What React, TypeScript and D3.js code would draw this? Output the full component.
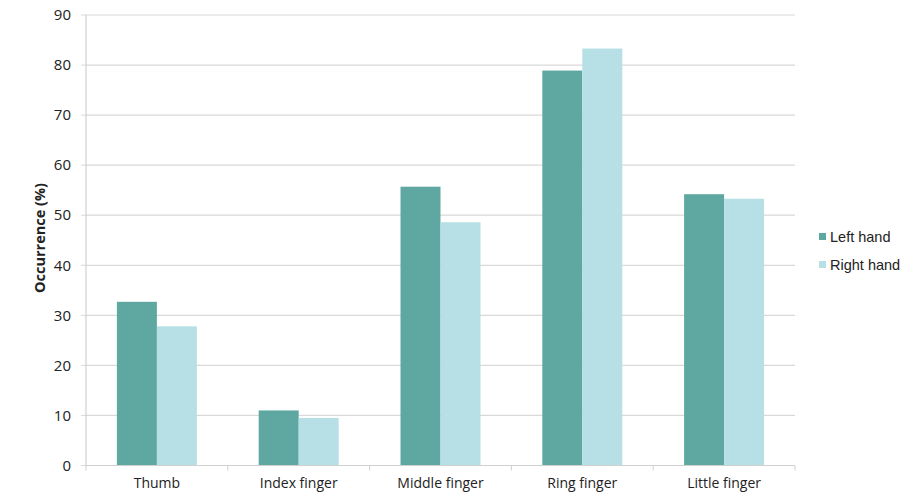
import React from "react";
import * as d3 from "d3";

const categories = ["Thumb", "Index finger", "Middle finger", "Ring finger", "Little finger"];
const seriesNames = ["Left hand", "Right hand"];
const leftHand = [32.7, 11.0, 55.7, 78.9, 54.2];
const rightHand = [27.8, 9.5, 48.6, 83.3, 53.3];
const yTicks = [0, 10, 20, 30, 40, 50, 60, 70, 80, 90];
const colors = ["#5fa8a1", "#b7e0e6"];

export default function App() {
  const W = 924, H = 495;
  const x0 = 86, x1 = 795, yTop = 15, yBot = 465.5;
  const x = d3.scaleBand<string>().domain(categories).range([x0, x1]).padding(0);
  const inner = d3.scaleBand<string>().domain(seriesNames).range([0, 80]).padding(0);
  const y = d3.scaleLinear().domain([0, 90]).range([yBot, yTop]);
  const series = [leftHand, rightHand];
  const font = "'Open Sans', sans-serif";
  return (
    <svg width={W} height={H} style={{ position: "absolute", left: 0, top: 0, background: "#fff" }}>
      {yTicks.map((t) => (
        <g key={t}>
          {t > 0 && <line x1={x0} x2={x1} y1={y(t)} y2={y(t)} stroke="#d9d9d9" strokeWidth={1.2} />}
          <line x1={x0 - 5} x2={x0} y1={y(t)} y2={y(t)} stroke="#d9d9d9" strokeWidth={1} />
          <text x={x0 - 15} y={y(t)} dy="0.35em" textAnchor="end" fontFamily={font} fontSize={15} fill="#222">{t}</text>
        </g>
      ))}
      {categories.map((c, i) =>
        series.map((s, j) => (
          <rect key={c + j}
            x={x(c)! + (x.bandwidth() - 80) / 2 + inner(seriesNames[j])!}
            y={y(s[i])} width={inner.bandwidth()} height={y(0) - y(s[i])}
            fill={colors[j]} />
        ))
      )}
      <line x1={x0} x2={x0} y1={yTop} y2={yBot} stroke="#d0d0d0" strokeWidth={1.2} />
      <line x1={x0} x2={x1} y1={yBot} y2={yBot} stroke="#d0d0d0" strokeWidth={1.2} />
      {categories.map((c, i) => (
        <line key={"tk" + i} x1={x(c)!} x2={x(c)!} y1={yBot} y2={yBot + 5} stroke="#d0d0d0" />
      ))}
      <line x1={x1} x2={x1} y1={yBot} y2={yBot + 5} stroke="#d0d0d0" />
      {categories.map((c) => (
        <text key={"l" + c} x={x(c)! + x.bandwidth() / 2} y={488} textAnchor="middle" fontFamily={font} fontSize={14} fill="#222">{c}</text>
      ))}
      <text transform={`translate(45,238) rotate(-90)`} textAnchor="middle" fontFamily={font} fontSize={14.5} fontWeight="bold" fill="#222">Occurrence (%)</text>
      {seriesNames.map((n, j) => (
        <g key={n} transform={`translate(819,${237 + j * 28})`}>
          <rect x={0} y={-4} width={7} height={7} fill={colors[j]} />
          <text x={11} y={0} dy="0.35em" fontFamily="'Liberation Sans', Arial, sans-serif" fontSize={14.5} fill="#222">{n}</text>
        </g>
      ))}
    </svg>
  );
}
